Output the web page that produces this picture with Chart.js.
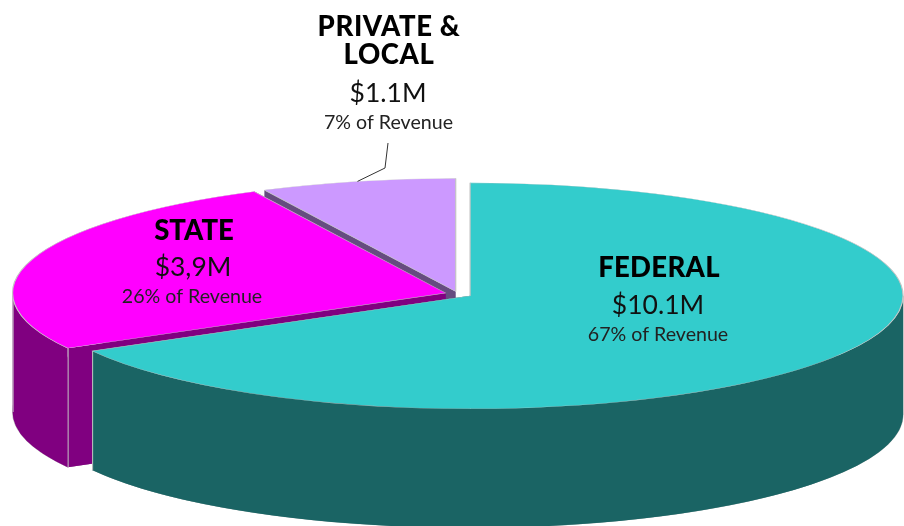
<!DOCTYPE html>
<html>
<head>
<meta charset="utf-8">
<style>html,body{margin:0;padding:0;background:#fff}canvas{display:block}</style>
<script src="https://cdn.jsdelivr.net/npm/chart.js@4"></script>
</head>
<body>
<canvas id="c" width="904" height="526"></canvas>
<script>
const categories = ['FEDERAL', 'STATE', 'PRIVATE & LOCAL'];
const revenueM = [10.1, 3.9, 1.1];
const amountLabels = ['$10.1M', '$3,9M', '$1.1M'];
const shareLabels = ['67% of Revenue', '26% of Revenue', '7% of Revenue'];
const topColors = ['#33CCCC', '#FF00FF', '#CC99FF'];
const wallColors = ['#1A6464', '#800080', '#664C80'];
const edgeColor = '#C4C4C4';

const explode = [14, 13, 10];
const squash = 0.261;
const depth = 119;
const radius = 433;
const paintOrder = [2, 1, 0];

const headFont = '900 27.5px "Lato"';
const amountFont = '26.5px "Lato"';
const shareFont = '19.6px "Lato"';
const labelLayout = [
  {x: 659, head: [[categories[0], 277]], amount: 314, amountX: 658, share: 341, shareX: 658, spacing: '0.3px'},
  {x: 194, head: [[categories[1], 240]], amount: 276, amountX: 193, share: 303, shareX: 192, spacing: '0px'},
  {x: 389, head: [['PRIVATE &', 36], ['LOCAL', 64]], amount: 102, amountX: 388, share: 129, shareX: 388.5, spacing: '0.6px'}
];
const leaderElbows = [[385, 168], [388, 143]];

function mid(a) { return (a.startAngle + a.endAngle) / 2; }
function shift(a, i) {
  return {x: Math.cos(mid(a)) * explode[i], y: Math.sin(mid(a)) * explode[i]};
}
function rim(a, i, angle) {
  const s = shift(a, i);
  return {
    x: a.x + s.x + Math.cos(angle) * a.outerRadius,
    y: a.y + (s.y + Math.sin(angle) * a.outerRadius) * squash
  };
}
function place(ctx, a, i, drop) {
  const s = shift(a, i);
  ctx.translate(a.x, a.y + drop);
  ctx.scale(1, squash);
  ctx.translate(-a.x, -a.y);
  ctx.translate(s.x, s.y);
}
function paint(ctx, a, i, drop, color, border) {
  const base = a.options;
  a.options = Object.assign({}, base, {backgroundColor: color, borderWidth: border});
  ctx.save();
  place(ctx, a, i, drop);
  a.draw(ctx);
  ctx.restore();
  a.options = base;
}
function sideFace(ctx, a, i, angle) {
  const s = shift(a, i);
  const ax = a.x + s.x, ay = a.y + s.y * squash;
  const p = rim(a, i, angle);
  ctx.beginPath();
  ctx.moveTo(ax, ay);
  ctx.lineTo(p.x, p.y);
  ctx.lineTo(p.x, p.y + depth);
  ctx.lineTo(ax, ay + depth);
  ctx.closePath();
  ctx.fill();
}
function curvedFace(ctx, a, i) {
  const from = Math.max(a.startAngle, 0);
  const to = Math.min(a.endAngle, Math.PI);
  if (to <= from) return;
  const s = shift(a, i);
  const ax = a.x + s.x, ay = a.y + s.y * squash;
  const R = a.outerRadius;
  ctx.beginPath();
  ctx.ellipse(ax, ay, R, R * squash, 0, from, to, false);
  ctx.ellipse(ax, ay + depth, R, R * squash, 0, to, from, true);
  ctx.closePath();
  ctx.fill();
}
function vertical(ctx, p) {
  ctx.beginPath();
  ctx.moveTo(p.x + 0.5, p.y);
  ctx.lineTo(p.x + 0.5, p.y + depth);
  ctx.stroke();
}

const pie3d = {
  id: 'pie3d',
  beforeDatasetDraw(chart, args) {
    const ctx = chart.ctx;
    const arcs = args.meta.data;
    paintOrder.forEach(i => {
      const a = arcs[i];
      paint(ctx, a, i, depth, wallColors[i], 1.2);
      ctx.save();
      ctx.fillStyle = wallColors[i];
      sideFace(ctx, a, i, a.startAngle);
      sideFace(ctx, a, i, a.endAngle);
      curvedFace(ctx, a, i);
      ctx.strokeStyle = edgeColor;
      ctx.lineWidth = 1;
      if (i === 1) {
        vertical(ctx, rim(a, i, a.startAngle));
        vertical(ctx, rim(a, i, Math.PI));
      }
      if (i === 0) {
        vertical(ctx, rim(a, i, a.endAngle));
        vertical(ctx, rim(a, i, 0));
      }
      ctx.restore();
      paint(ctx, a, i, 0, topColors[i], 1.2);
    });
    return false;
  },
  afterDraw(chart) {
    const ctx = chart.ctx;
    const arcs = chart.getDatasetMeta(0).data;
    const p = arcs[2];
    const start = rim(p, 2, mid(p));
    ctx.save();
    ctx.strokeStyle = '#333';
    ctx.lineWidth = 1;
    ctx.beginPath();
    ctx.moveTo(start.x, start.y);
    leaderElbows.forEach(e => ctx.lineTo(e[0], e[1]));
    ctx.stroke();
    ctx.textAlign = 'center';
    ctx.textBaseline = 'alphabetic';
    labelLayout.forEach((l, i) => {
      ctx.fillStyle = '#000';
      ctx.font = headFont;
      ctx.letterSpacing = l.spacing;
      l.head.forEach(h => ctx.fillText(h[0], l.x, h[1]));
      ctx.letterSpacing = '0px';
      ctx.fillStyle = '#111';
      ctx.font = amountFont;
      ctx.fillText(amountLabels[i], l.amountX, l.amount);
      ctx.fillStyle = '#222';
      ctx.font = shareFont;
      ctx.fillText(shareLabels[i], l.shareX, l.share);
    });
    ctx.restore();
  }
};

new Chart(document.getElementById('c'), {
  type: 'pie',
  plugins: [pie3d],
  data: {
    labels: categories,
    datasets: [{
      data: revenueM,
      backgroundColor: topColors,
      borderColor: edgeColor,
      borderWidth: 1.2,
      clip: false
    }]
  },
  options: {
    responsive: false,
    animation: false,
    radius: radius,
    layout: {padding: {left: 12, top: 62}},
    plugins: {legend: {display: false}, tooltip: {enabled: false}, title: {display: false}}
  }
});
</script>
</body>
</html>
